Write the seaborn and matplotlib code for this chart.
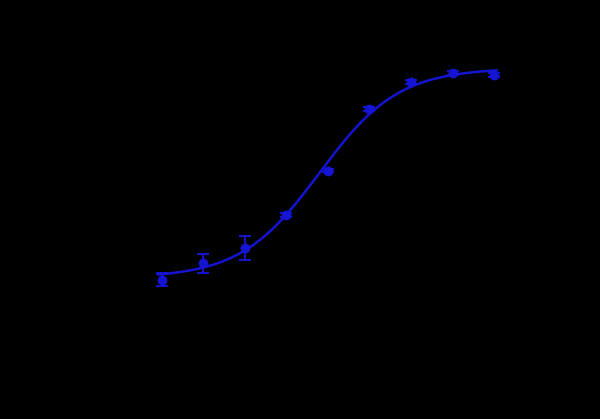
import numpy as np
import pandas as pd
import matplotlib
matplotlib.use("Agg")
import matplotlib.pyplot as plt
import seaborn as sns

# standard curve: 2-fold dilution series
conc = [0.156, 0.3125, 0.625, 1.25, 2.5, 5, 10, 20, 40]
od_mean = [0.52, 0.69, 0.85, 1.19, 1.65, 2.29, 2.57, 2.66, 2.64]
od_sd = [0.067, 0.098, 0.124, 0.02, 0.02, 0.02, 0.02, 0.02, 0.02]

# fitted 4PL parameters (bottom, top, EC50, hill)
fit_bottom = 0.538
fit_top = 2.71
fit_ec50 = 2.17
fit_hill = 1.52

BLUE = "#1414d2"

sns.set_style("ticks")
plt.rcParams["font.family"] = ["DejaVu Sans"]

df = pd.DataFrame({"conc": conc, "od": od_mean, "sd": od_sd})
xs = np.geomspace(0.146, 42, 300)
fit = pd.DataFrame({
    "conc": xs,
    "od": fit_bottom + (fit_top - fit_bottom) / (1 + (fit_ec50 / xs) ** fit_hill),
})

fig = plt.figure(figsize=(6, 4.19), dpi=100, facecolor="black")
ax = fig.add_axes([0.2, 0.2124, 0.7, 0.6921])
ax.set_facecolor("black")

sns.lineplot(data=fit, x="conc", y="od", color=BLUE, linewidth=1.8, ax=ax)
ax.errorbar(df["conc"], df["od"], yerr=df["sd"], fmt="none", ecolor=BLUE,
            elinewidth=1.4, capsize=4, capthick=1.4)
sns.scatterplot(data=df, x="conc", y="od", color=BLUE, s=50, edgecolor=BLUE,
                linewidth=0, ax=ax, zorder=3)

ax.set_xscale("log")
ax.set_xlim(0.078, 86)
ax.set_ylim(0, 3)
ax.set_xlabel("Concentration (ng/mL)", color="black")
ax.set_ylabel("OD 450 nm", color="black")
ax.tick_params(which="both", colors="black")
for sp in ax.spines.values():
    sp.set_color("black")
sns.despine(ax=ax)

fig.savefig("out.png", dpi=100, facecolor="black")
